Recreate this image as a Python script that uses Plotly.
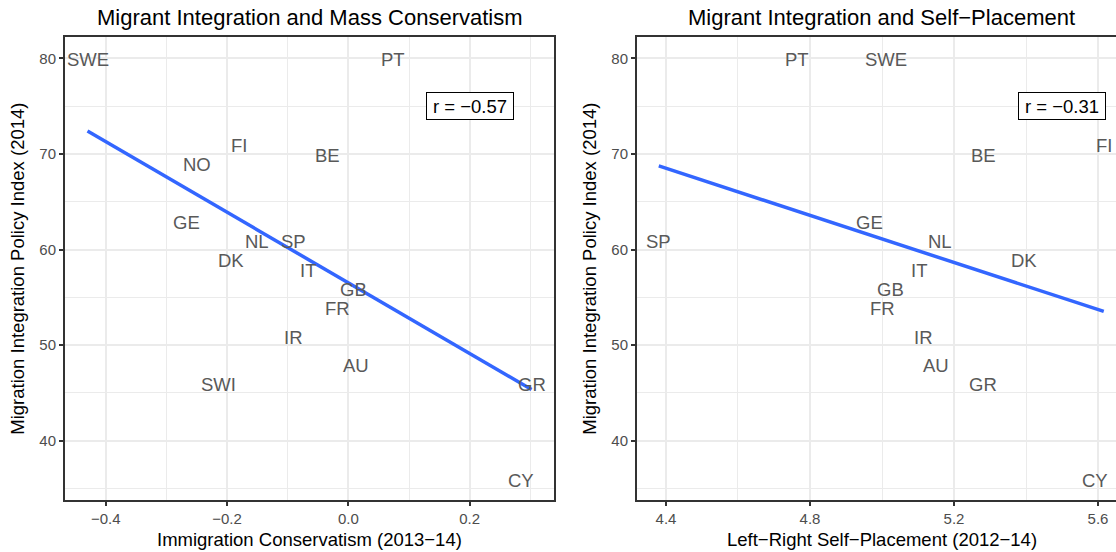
import numpy as np
import plotly.graph_objects as go

# ---- data ----
countries_left = ["SWE", "PT", "FI", "BE", "NO", "GE", "NL", "SP", "DK", "IT",
                  "GB", "FR", "IR", "AU", "SWI", "GR", "CY"]
conservatism = [-0.430, 0.074, -0.181, -0.035, -0.250, -0.267, -0.151, -0.090,
                -0.194, -0.067, 0.009, -0.018, -0.090, 0.012, -0.214, 0.302, 0.284]
mipex_left = [80, 80, 71, 70, 69, 63, 61, 61, 59, 58, 56, 54, 51, 48, 46, 46, 36]

countries_right = ["PT", "SWE", "BE", "FI", "SP", "GE", "NL", "DK", "IT", "GB",
                   "FR", "IR", "AU", "GR", "CY"]
self_placement = [4.763, 5.011, 5.282, 5.616, 4.380, 4.966, 5.160, 5.395, 5.103,
                  5.023, 5.001, 5.115, 5.151, 5.281, 5.591]
mipex_right = [80, 80, 70, 71, 61, 63, 61, 59, 58, 56, 54, 51, 48, 46, 36]

r_labels = ["r = \u22120.57", "r = \u22120.31"]
r_label_x = [0.2, 5.5]
r_label_y = [75, 75]

titles = ["Migrant Integration and Mass Conservatism",
          "Migrant Integration and Self\u2212Placement"]
x_titles = ["Immigration Conservatism (2013\u221214)",
            "Left\u2212Right Self\u2212Placement (2012\u221214)"]
y_title = "Migration Integration Policy Index (2014)"

# ---- layout constants ----
W, H = 1116, 552
FONT = "Liberation Sans, Arial, Helvetica, sans-serif"
TEXT_GREY = "#595959"
GRID = "#EBEBEB"
BORDER = "#333333"

def px(v):
    return v / W

def py(v):
    return 1 - v / H

fig = go.Figure()

panels = [
    (conservatism, mipex_left, countries_left, "x", "y"),
    (self_placement, mipex_right, countries_right, "x2", "y2"),
]

for i, (xs, ys, labs, xa, ya) in enumerate(panels):
    xs_a = np.array(xs)
    ys_a = np.array(ys)
    # invisible anchor trace so the panel has data
    fig.add_trace(go.Scatter(
        x=xs, y=ys, mode="markers", marker=dict(opacity=0),
        hoverinfo="skip", showlegend=False, xaxis=xa, yaxis=ya))
    for xv, yv, lab in zip(xs, ys, labs):
        fig.add_annotation(
            x=xv, y=yv, xref=xa, yref=ya, text=lab, showarrow=False,
            xanchor="center", yanchor="middle", yshift=-1.5,
            font=dict(family=FONT, size=18.5, color=TEXT_GREY))
    slope, icpt = np.polyfit(xs_a, ys_a, 1)
    xl = np.array([xs_a.min(), xs_a.max()])
    fig.add_trace(go.Scatter(
        x=xl, y=icpt + slope * xl, mode="lines",
        line=dict(color="#3366FF", width=3.5),
        hoverinfo="skip", showlegend=False, xaxis=xa, yaxis=ya))
    fig.add_annotation(
        x=r_label_x[i], y=r_label_y[i], xref=xa, yref=ya, text=r_labels[i],
        showarrow=False, font=dict(family=FONT, size=18.5, color="black"),
        bgcolor="white", bordercolor="black", borderwidth=1, borderpad=3,
        width=80, height=20, xanchor="center", yanchor="middle")

y_dom = [py(500), py(37.3)]
x1_dom = [px(65.3), px(553.7)]
x2_dom = [px(637.3), 1.0]

common_axis = dict(
    showgrid=True, gridcolor=GRID, gridwidth=1.8, zeroline=False,
    ticks="outside", ticklen=4.5, tickwidth=1.5, tickcolor=BORDER,
    tickfont=dict(family=FONT, size=15, color="#4D4D4D"),
    showline=True, linecolor=BORDER, linewidth=1.5, automargin=False,
)

fig.update_layout(
    width=W, height=H, margin=dict(l=0, r=0, t=0, b=0),
    paper_bgcolor="white", plot_bgcolor="white", showlegend=False,
    xaxis=dict(domain=x1_dom, anchor="y", range=[-0.4666, 0.3385],
               tickmode="linear", tick0=0, dtick=0.2, tickformat=".1f",
               mirror=True,
               minor=dict(showgrid=True, gridcolor=GRID, gridwidth=0.9,
                          tick0=0, dtick=0.1),
               **common_axis),
    yaxis=dict(domain=y_dom, anchor="x", range=[33.8, 82.2],
               tickmode="linear", tick0=40, dtick=10, mirror=True,
               minor=dict(showgrid=True, gridcolor=GRID, gridwidth=0.9,
                          tick0=35, dtick=5),
               **common_axis),
    xaxis2=dict(domain=x2_dom, anchor="y2", range=[4.3203, 5.65],
                tickmode="linear", tick0=4.4, dtick=0.4, tickformat=".1f",
                mirror=True,
                minor=dict(showgrid=True, gridcolor=GRID, gridwidth=0.9,
                           tick0=4.4, dtick=0.2),
                **common_axis),
    yaxis2=dict(domain=y_dom, anchor="x2", range=[33.8, 82.2],
                tickmode="linear", tick0=40, dtick=10, mirror=False,
                minor=dict(showgrid=True, gridcolor=GRID, gridwidth=0.9,
                           tick0=35, dtick=5),
                **common_axis),
)

# titles and axis titles
centers = [309.5, 881.7]
ytitle_x = [18, 590]
for i in range(2):
    fig.add_annotation(x=px(centers[i]), y=py(17), xref="paper", yref="paper",
                       text=titles[i], showarrow=False, xanchor="center",
                       yanchor="middle",
                       font=dict(family=FONT, size=22, color="black"))
    fig.add_annotation(x=px(centers[i]), y=py(539), xref="paper", yref="paper",
                       text=x_titles[i], showarrow=False, xanchor="center",
                       yanchor="middle",
                       font=dict(family=FONT, size=18.5, color="black"))
    fig.add_annotation(x=px(ytitle_x[i]), y=py(268.7), xref="paper",
                       yref="paper", text=y_title, showarrow=False,
                       textangle=-90, xanchor="center", yanchor="middle",
                       font=dict(family=FONT, size=18.5, color="black"))

fig.write_html("out.html", config={"displayModeBar": False})
